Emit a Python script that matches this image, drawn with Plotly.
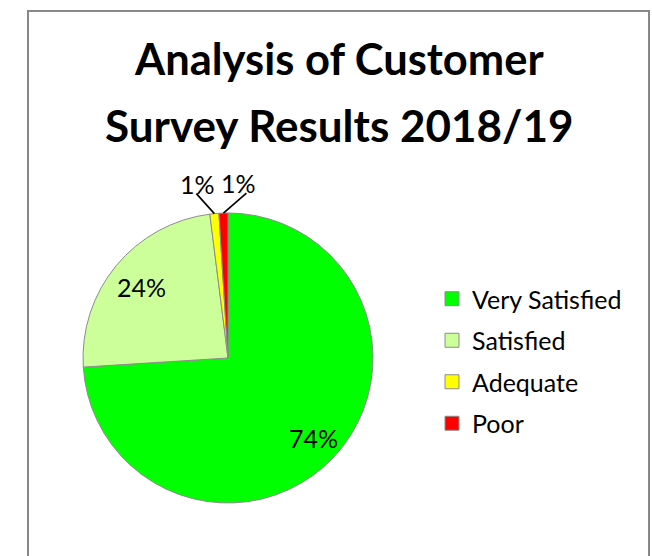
import math
import plotly.graph_objects as go

# ---- data ----
categories = ["Very Satisfied", "Satisfied", "Adequate", "Poor"]
values = [74, 24, 1, 1]
colors = ["#00FF00", "#CCFF99", "#FFFF00", "#FF0000"]
title_lines = ["Analysis of Customer", "Survey Results 2018/19"]

# ---- layout geometry (page pixels) ----
FW, FH = 652, 556
cx, cy, r = 228, 358, 145
FONT = "Lato"


def px(x):
    return x / FW


def py(y):
    return 1 - y / FH


fig = go.Figure()

fig.add_trace(go.Pie(
    labels=categories,
    values=values,
    marker=dict(colors=colors, line=dict(color="#8c8c8c", width=1)),
    sort=False,
    direction="clockwise",
    rotation=0,
    textinfo="none",
    domain=dict(x=[px(cx - r), px(cx + r)], y=[py(cy + r), py(cy - r)]),
    hoverinfo="label+percent",
    showlegend=False,
))

# legend entries (one group each so they can be spaced like the original)
for cat, col in zip(categories, colors):
    fig.add_trace(go.Scatter(
        x=[None], y=[None], mode="markers", name=cat, legendgroup=cat,
        marker=dict(symbol="square", size=14, color=col,
                    line=dict(color="#8c8c8c", width=1)),
        hoverinfo="skip",
    ))

annotations = []
shapes = []

# title as two lines
for txt, yc, fs in zip(title_lines, [58, 125], [43.5, 44]):
    annotations.append(dict(
        text="<b>" + txt + "</b>", x=px(339), y=py(yc), xref="paper", yref="paper",
        xanchor="center", yanchor="middle", showarrow=False,
        font=dict(family=FONT, size=fs, color="#000000"),
    ))

# data labels
total = sum(values)
cum = 0
inside_frac = {0: 0.81, 1: 0.77}
lead = {2: (-18, -20, 1), 3: (23, -20, -8)}
for i, v in enumerate(values):
    mid = (cum + v / 2) / total
    cum += v
    th = 2 * math.pi * mid
    label = f"{round(100 * v / total)}%"
    if i in inside_frac:
        f = inside_frac[i]
        lx, ly = cx + f * r * math.sin(th), cy - f * r * math.cos(th)
        annotations.append(dict(
            text=label, x=px(lx), y=py(ly), xref="paper", yref="paper",
            xanchor="center", yanchor="middle", showarrow=False,
            font=dict(family=FONT, size=25, color="#000000"),
        ))
    else:
        tx, ty = cx + r * math.sin(th), cy - r * math.cos(th)
        dx, dy, shift = lead[i]
        ex, ey = tx + dx, ty + dy
        shapes.append(dict(type="line", xref="paper", yref="paper",
                           x0=px(tx), y0=py(ty), x1=px(ex), y1=py(ey),
                           line=dict(color="#000000", width=1.6)))
        annotations.append(dict(
            text=label, x=px(ex + shift), y=py(ey + 7),
            xref="paper", yref="paper", xanchor="center", yanchor="bottom",
            showarrow=False, font=dict(family=FONT, size=25, color="#000000"),
        ))

# chart frame
shapes.append(dict(type="rect", xref="paper", yref="paper",
                   x0=px(28), x1=px(649), y0=py(11), y1=py(640),
                   line=dict(color="#878787", width=2), fillcolor="rgba(0,0,0,0)"))

fig.update_layout(
    width=FW, height=FH,
    margin=dict(l=0, r=0, t=0, b=0),
    paper_bgcolor="#FFFFFF",
    plot_bgcolor="#FFFFFF",
    showlegend=True,
    xaxis=dict(visible=False),
    yaxis=dict(visible=False),
    legend=dict(
        x=px(432), xanchor="left", y=py(361), yanchor="middle",
        font=dict(family=FONT, size=25, color="#000000"),
        bgcolor="rgba(0,0,0,0)", traceorder="grouped", tracegroupgap=6,
        itemclick=False, itemdoubleclick=False,
    ),
    annotations=annotations,
    shapes=shapes,
)

fig.write_html(
    "out.html",
    config={"displayModeBar": False},
    post_script="document.body.style.margin='0';document.body.style.overflow='hidden';",
)
